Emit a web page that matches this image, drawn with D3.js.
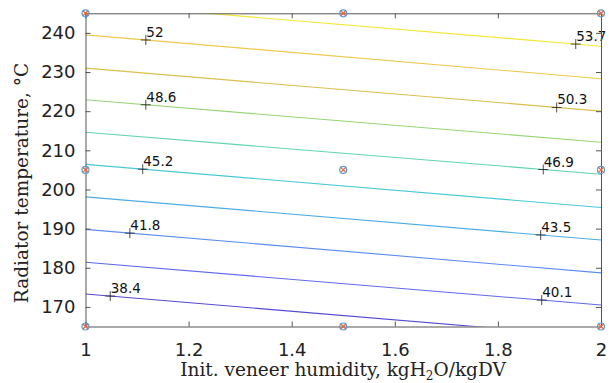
<html>
<head>
<meta charset="utf-8">
<title>Contour</title>
<script src="https://d3js.org/d3.v7.min.js"></script>
<style>
body { margin: 0; background: #fff; }
</style>
</head>
<body>
<svg width="613" height="383"></svg>
<script>
// contour levels, temperature where each line meets x=1 and x=2, label position (humidity)
var levels = [38.4, 40.1, 41.8, 43.5, 45.2, 46.9, 48.6, 50.3, 52, 53.7];
var leftT  = [173.3, 181.4, 189.8, 198.1, 206.4, 214.6, 222.9, 231.0, 239.5, 247.6];
var rightT = [162.3, 170.5, 178.7, 187.1, 195.4, 203.9, 212.05, 220.0, 228.3, 236.6];
var labelH = [1.048, 1.885, 1.086, 1.883, 1.111, 1.888, 1.117, 1.914, 1.117, 1.951];
var lineColors = ["#5548d8", "#6068f0", "#5a8cf5", "#4cace9", "#48c8d6", "#62d4ae", "#98d678", "#dcc04a", "#efc84c", "#f5e735"];
// design points
var ptH = [1, 1, 1, 1.5, 1.5, 1.5, 2, 2, 2];
var ptT = [165, 205, 245, 165, 205, 245, 165, 205, 245];
var xTicks = [1, 1.2, 1.4, 1.6, 1.8, 2];
var yTicks = [170, 180, 190, 200, 210, 220, 230, 240];

var svg = d3.select("svg"),
    margin = {top: 13.3, right: 12, bottom: 56.5, left: 85.5},
    width = +svg.attr("width") - margin.left - margin.right,
    height = +svg.attr("height") - margin.top - margin.bottom,
    g = svg.append("g").attr("transform", `translate(${margin.left},${margin.top})`);

var x = d3.scaleLinear().domain([1, 2]).range([0, width]);
var y = d3.scaleLinear().domain([165, 245]).range([height, 0]);

svg.append("defs").append("clipPath").attr("id", "clip")
    .append("rect").attr("width", width).attr("height", height);

var lines = g.append("g").attr("clip-path", "url(#clip)");
levels.forEach(function(v, i) {
    lines.append("line")
        .attr("x1", x(1)).attr("y1", y(leftT[i]))
        .attr("x2", x(2)).attr("y2", y(rightT[i]))
        .attr("stroke", lineColors[i])
        .attr("stroke-width", 1.1);
});

// labels
levels.forEach(function(v, i) {
    var h = labelH[i];
    var t = leftT[i] + (rightT[i] - leftT[i]) * (h - 1);
    var px = x(h), py = y(t);
    g.append("path")
        .attr("d", `M${px - 5},${py}H${px + 5}M${px},${py - 5}V${py + 5}`)
        .attr("stroke", "#222").attr("stroke-width", 0.8);
    g.append("text")
        .attr("x", px + 0.5).attr("y", py - 3)
        .text(v)
        .style("font", "13.5px 'DejaVu Sans'")
        .attr("fill", "#111");
});

// axes
var fmt = d3.format("");
var ax = g.append("g").attr("transform", `translate(0,${height})`)
    .call(d3.axisBottom(x).tickValues(xTicks).tickSizeInner(-5).tickSizeOuter(0).tickPadding(17).tickFormat(fmt));
var axTop = g.append("g")
    .call(d3.axisTop(x).tickValues(xTicks).tickSizeInner(-5).tickSizeOuter(0).tickFormat(""));
var ay = g.append("g")
    .call(d3.axisLeft(y).tickValues(yTicks).tickSizeInner(-5).tickSizeOuter(0).tickPadding(10));
var ayR = g.append("g").attr("transform", `translate(${width},0)`)
    .call(d3.axisRight(y).tickValues(yTicks).tickSizeInner(-5).tickSizeOuter(0).tickFormat(""));
[ax, axTop, ay, ayR].forEach(function(a) {
    a.select(".domain").attr("stroke", "#555");
    a.selectAll(".tick line").attr("stroke", "#555");
    a.selectAll("text").style("font", "18px 'DejaVu Sans'").attr("fill", "#222");
});

// design points
ptH.forEach(function(h, i) {
    var px = x(h), py = y(ptT[i]);
    g.append("circle").attr("cx", px).attr("cy", py).attr("r", 3.5)
        .attr("fill", "none").attr("stroke", "#5b9bd5").attr("stroke-width", 1.2);
    g.append("path")
        .attr("d", `M${px - 2.5},${py - 2.5}L${px + 2.5},${py + 2.5}M${px - 2.5},${py + 2.5}L${px + 2.5},${py - 2.5}`)
        .attr("stroke", "#ee6633").attr("stroke-width", 1.3);
});

// axis titles
svg.append("text")
    .attr("x", 343).attr("y", 376)
    .attr("text-anchor", "middle")
    .style("font", "18.5px 'DejaVu Serif'")
    .attr("fill", "#222")
    .html("Init. veneer humidity, kgH<tspan font-size='12' dy='4'>2</tspan><tspan dy='-4'>O/kgDV</tspan>");
svg.append("text")
    .attr("transform", "translate(28,183) rotate(-90)")
    .attr("text-anchor", "middle")
    .style("font", "18.5px 'DejaVu Serif'")
    .attr("fill", "#222")
    .text("Radiator temperature, °C");
</script>
</body>
</html>
